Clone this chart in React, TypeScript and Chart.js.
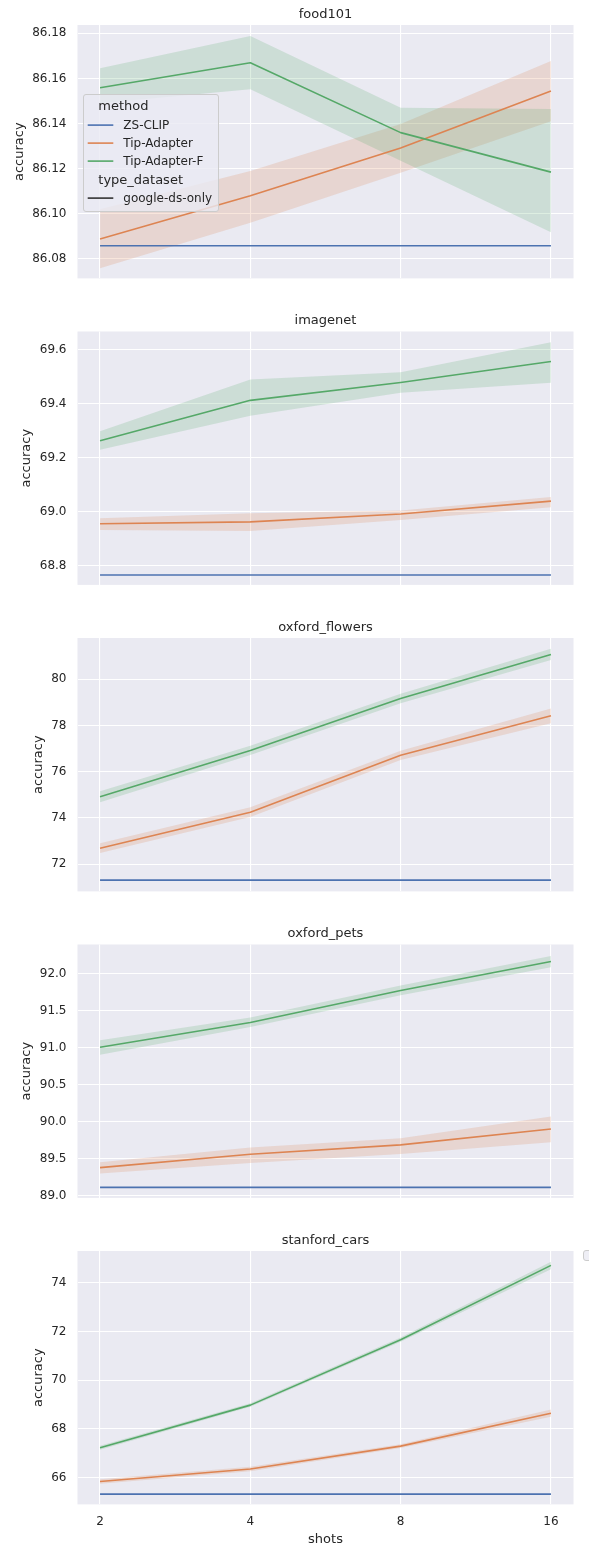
import React, { useEffect, useRef } from 'react';
import { Chart, registerables } from 'chart.js';

Chart.register(...registerables);

const FONT = "'DejaVu Sans', sans-serif";
const TEXT = '#262626';

const shots = [2, 4, 8, 16];
const shotLabels = ['2', '4', '8', '16'];
const methods = ['ZS-CLIP', 'Tip-Adapter', 'Tip-Adapter-F'];
const methodColors = ['#4c72b0', '#dd8452', '#55a868'];
const bandColors = ['rgba(76,114,176,0.2)', 'rgba(221,132,82,0.2)', 'rgba(85,168,104,0.2)'];
const legendTitles = ['method', 'type_dataset'];
const typeDatasets = ['google-ds-only'];
const panelTitles = ['food101', 'imagenet', 'oxford_flowers', 'oxford_pets', 'stanford_cars'];
const xTitle = 'shots';
const yTitle = 'accuracy';

// food101
const food101ZS = [86.0859, 86.0859, 86.0859, 86.0859];
const food101Tip = [86.0889, 86.108, 86.1292, 86.1544];
const food101TipLo = [86.0759, 86.0961, 86.1182, 86.141];
const food101TipHi = [86.102, 86.119, 86.1398, 86.1677];
const food101TipF = [86.1559, 86.167, 86.136, 86.1185];
const food101TipFLo = [86.149, 86.1552, 86.1235, 86.0918];
const food101TipFHi = [86.1645, 86.1788, 86.147, 86.1465];
const food101Ticks = ['86.08', '86.10', '86.12', '86.14', '86.16', '86.18'];
const food101Range = [86.0714, 86.1837];

// imagenet
const imagenetZS = [68.765, 68.765, 68.765, 68.765];
const imagenetTip = [68.955, 68.962, 68.991, 69.039];
const imagenetTipLo = [68.932, 68.928, 68.969, 69.016];
const imagenetTipHi = [68.975, 68.994, 69.004, 69.054];
const imagenetTipF = [69.263, 69.413, 69.479, 69.557];
const imagenetTipFLo = [69.23, 69.356, 69.441, 69.478];
const imagenetTipFHi = [69.298, 69.49, 69.517, 69.629];
const imagenetTicks = ['68.8', '69.0', '69.2', '69.4', '69.6'];
const imagenetRange = [68.728, 69.6685];

// oxford_flowers
const flowersZS = [71.31, 71.31, 71.31, 71.31];
const flowersTip = [72.69, 74.25, 76.71, 78.42];
const flowersTipLo = [72.48, 74.04, 76.51, 78.1];
const flowersTipHi = [72.9, 74.46, 76.91, 78.74];
const flowersTipF = [74.92, 76.92, 79.17, 81.08];
const flowersTipFLo = [74.68, 76.72, 78.96, 80.84];
const flowersTipFHi = [75.16, 77.12, 79.38, 81.32];
const flowersTicks = ['72', '74', '76', '78', '80'];
const flowersRange = [70.82, 81.79];

// oxford_pets
const petsZS = [89.112, 89.112, 89.112, 89.112];
const petsTip = [89.379, 89.56, 89.686, 89.9];
const petsTipLo = [89.3, 89.44, 89.564, 89.72];
const petsTipHi = [89.45, 89.65, 89.776, 90.07];
const petsTipF = [91.007, 91.34, 91.774, 92.167];
const petsTipFLo = [90.905, 91.28, 91.71, 92.09];
const petsTipFHi = [91.1, 91.41, 91.84, 92.24];
const petsTicks = ['89.0', '89.5', '90.0', '90.5', '91.0', '91.5', '92.0'];
const petsRange = [88.969, 92.396];

// stanford_cars
const carsZS = [65.33, 65.33, 65.33, 65.33];
const carsTip = [65.85, 66.36, 67.3, 68.65];
const carsTipLo = [65.76, 66.27, 67.22, 68.5];
const carsTipHi = [65.94, 66.45, 67.38, 68.8];
const carsTipF = [67.23, 68.98, 71.66, 74.71];
const carsTipFLo = [67.15, 68.91, 71.58, 74.55];
const carsTipFHi = [67.31, 69.06, 71.75, 74.86];
const carsTicks = ['66', '68', '70', '72', '74'];
const carsRange = [64.91, 75.3];

const panels = [
  { zs: food101ZS, tip: food101Tip, tipLo: food101TipLo, tipHi: food101TipHi, tipF: food101TipF, tipFLo: food101TipFLo, tipFHi: food101TipFHi, ticks: food101Ticks, range: food101Range },
  { zs: imagenetZS, tip: imagenetTip, tipLo: imagenetTipLo, tipHi: imagenetTipHi, tipF: imagenetTipF, tipFLo: imagenetTipFLo, tipFHi: imagenetTipFHi, ticks: imagenetTicks, range: imagenetRange },
  { zs: flowersZS, tip: flowersTip, tipLo: flowersTipLo, tipHi: flowersTipHi, tipF: flowersTipF, tipFLo: flowersTipFLo, tipFHi: flowersTipFHi, ticks: flowersTicks, range: flowersRange },
  { zs: petsZS, tip: petsTip, tipLo: petsTipLo, tipHi: petsTipHi, tipF: petsTipF, tipFLo: petsTipFLo, tipFHi: petsTipFHi, ticks: petsTicks, range: petsRange },
  { zs: carsZS, tip: carsTip, tipLo: carsTipLo, tipHi: carsTipHi, tipF: carsTipF, tipFLo: carsTipFLo, tipFHi: carsTipFHi, ticks: carsTicks, range: carsRange },
];

// layout (page pixels)
const PAGE_W = 589;
const PAGE_H = 1549;
const PLOT_LEFT = 77.5;
const PLOT_RIGHT = 573.5;
const PLOT_H = 253.4;
const PANEL_STEP = 306.5;
const FIRST_TOP = 25;

function panelGeom(i: number) {
  const plotTop = FIRST_TOP + PANEL_STEP * i;
  const canvasTop = Math.floor(plotTop - 25);
  const padTop = plotTop - canvasTop;
  const last = i === panels.length - 1;
  const h = last ? PAGE_H - canvasTop : 298;
  const xh = last ? PAGE_H - (plotTop + PLOT_H) : 0;
  const padBottom = h - padTop - PLOT_H - xh;
  return { plotTop, canvasTop, padTop, padBottom, h, xh, last };
}

const transparent = 'rgba(0,0,0,0)';
const pts = (ys: number[]) => shots.map((x, i) => ({ x, y: ys[i] }));

function roundRect(ctx: CanvasRenderingContext2D, x: number, y: number, w: number, h: number, r: number) {
  ctx.beginPath();
  ctx.moveTo(x + r, y);
  ctx.lineTo(x + w - r, y);
  ctx.arcTo(x + w, y, x + w, y + r, r);
  ctx.lineTo(x + w, y + h - r);
  ctx.arcTo(x + w, y + h, x + w - r, y + h, r);
  ctx.lineTo(x + r, y + h);
  ctx.arcTo(x, y + h, x, y + h - r, r);
  ctx.lineTo(x, y + r);
  ctx.arcTo(x, y, x + r, y, r);
  ctx.closePath();
}

function makeDecor(i: number) {
  const p = panels[i];
  const g = panelGeom(i);
  return {
    id: 'decor' + i,
    beforeDraw(chart: any) {
      const { ctx, chartArea: a } = chart;
      ctx.save();
      ctx.fillStyle = '#eaeaf2';
      ctx.fillRect(a.left, a.top, a.right - a.left, a.bottom - a.top);
      ctx.restore();
    },
    afterDraw(chart: any) {
      const { ctx, chartArea: a } = chart;
      const cx = (a.left + a.right) / 2;
      ctx.save();
      ctx.fillStyle = TEXT;
      // title
      ctx.font = `13px ${FONT}`;
      ctx.textAlign = 'center';
      ctx.textBaseline = 'alphabetic';
      ctx.fillText(panelTitles[i], cx, a.top - 7.5);
      // y label
      ctx.font = `12px ${FONT}`;
      const w = Math.max(...p.ticks.map((t) => ctx.measureText(t).width));
      const labLeft = a.left - 11 - w;
      ctx.save();
      ctx.font = `13px ${FONT}`;
      ctx.translate(labLeft - 13, (a.top + a.bottom) / 2);
      ctx.rotate(-Math.PI / 2);
      ctx.textAlign = 'center';
      ctx.textBaseline = 'middle';
      ctx.fillText(yTitle, 0, 0);
      ctx.restore();
      if (g.last) {
        ctx.font = `13px ${FONT}`;
        ctx.textAlign = 'center';
        ctx.textBaseline = 'alphabetic';
        ctx.fillText(xTitle, cx, 1543 - g.canvasTop);
        // clipped empty legend frame at right edge
        roundRect(ctx, 583.5, 1250.5 - g.canvasTop, 20, 10, 2.5);
        ctx.fillStyle = 'rgba(234,234,242,0.8)';
        ctx.fill();
        ctx.strokeStyle = '#cccccc';
        ctx.lineWidth = 1;
        ctx.stroke();
      }
      if (i === 0) {
        const oy = -g.canvasTop;
        roundRect(ctx, 83.5, 94.5 + oy, 135, 117, 2.5);
        ctx.fillStyle = 'rgba(234,234,242,0.8)';
        ctx.fill();
        ctx.strokeStyle = '#cccccc';
        ctx.lineWidth = 1;
        ctx.stroke();
        ctx.textAlign = 'left';
        ctx.textBaseline = 'alphabetic';
        ctx.fillStyle = TEXT;
        ctx.font = `13px ${FONT}`;
        ctx.fillText(legendTitles[0], 98.3, 110 + oy);
        ctx.fillText(legendTitles[1], 98.3, 183.5 + oy);
        const rows = [129.3, 147.3, 165.3];
        ctx.font = `12px ${FONT}`;
        methods.forEach((m, k) => {
          ctx.strokeStyle = methodColors[k];
          ctx.lineWidth = 1.6;
          ctx.beginPath();
          ctx.moveTo(87.7, rows[k] - 4.2 + oy);
          ctx.lineTo(113.3, rows[k] - 4.2 + oy);
          ctx.stroke();
          ctx.fillStyle = TEXT;
          ctx.fillText(m, 123.3, rows[k] + oy);
        });
        ctx.strokeStyle = '#333333';
        ctx.lineWidth = 1.6;
        ctx.beginPath();
        ctx.moveTo(87.7, 202.3 - 4.2 + oy);
        ctx.lineTo(113.3, 202.3 - 4.2 + oy);
        ctx.stroke();
        ctx.fillStyle = TEXT;
        ctx.fillText(typeDatasets[0], 123.3, 202.3 + oy);
      }
      ctx.restore();
    },
  };
}

function buildConfig(i: number): any {
  const p = panels[i];
  const g = panelGeom(i);
  const lineDs = (label: string, ys: number[], k: number, order: number) => ({
    label,
    data: pts(ys),
    borderColor: methodColors[k],
    backgroundColor: methodColors[k],
    borderWidth: 1.6,
    borderJoinStyle: 'round',
    pointRadius: 0,
    fill: false,
    tension: 0,
    order,
  });
  const bandDs = (label: string, ys: number[], k: number, order: number, fill: any) => ({
    label,
    data: pts(ys),
    borderColor: transparent,
    backgroundColor: bandColors[k],
    borderWidth: 0,
    pointRadius: 0,
    fill,
    tension: 0,
    order,
  });
  return {
    type: 'line',
    data: {
      datasets: [
        lineDs(methods[0], p.zs, 0, 3),
        lineDs(methods[1], p.tip, 1, 2),
        lineDs(methods[2], p.tipF, 2, 1),
        bandDs(methods[2] + ' upper', p.tipFHi, 2, 9, '+1'),
        bandDs(methods[2] + ' lower', p.tipFLo, 2, 9, false),
        bandDs(methods[1] + ' upper', p.tipHi, 1, 10, '+1'),
        bandDs(methods[1] + ' lower', p.tipLo, 1, 10, false),
      ],
    },
    options: {
      animation: false,
      responsive: false,
      devicePixelRatio: 1,
      events: [],
      layout: { padding: { top: g.padTop, bottom: g.padBottom, left: 0, right: PAGE_W - PLOT_RIGHT } },
      plugins: {
        legend: { display: false },
        title: { display: false },
        tooltip: { enabled: false },
        filler: { propagate: false },
      },
      scales: {
        x: {
          type: 'logarithmic',
          min: shots[0] / Math.pow(2, 0.15),
          max: shots[shots.length - 1] * Math.pow(2, 0.15),
          afterBuildTicks: (s: any) => {
            s.ticks = shots.map((v) => ({ value: v }));
          },
          afterFit: (s: any) => {
            s.height = g.xh;
          },
          ticks: {
            display: g.last,
            autoSkip: false,
            maxRotation: 0,
            padding: 10,
            color: TEXT,
            font: { family: FONT, size: 12 },
            callback: (_v: any, idx: number) => shotLabels[idx],
          },
          grid: { color: '#ffffff', lineWidth: 1.1, drawTicks: false },
          border: { display: false },
        },
        y: {
          type: 'linear',
          min: p.range[0],
          max: p.range[1],
          afterBuildTicks: (s: any) => {
            s.ticks = p.ticks.map((t) => ({ value: parseFloat(t) }));
          },
          afterFit: (s: any) => {
            s.width = PLOT_LEFT;
          },
          ticks: {
            autoSkip: false,
            padding: 11,
            color: TEXT,
            font: { family: FONT, size: 12 },
            callback: (_v: any, idx: number) => p.ticks[idx],
          },
          grid: { color: '#ffffff', lineWidth: 1.1, drawTicks: false },
          border: { display: false },
        },
      },
    },
    plugins: [makeDecor(i)],
  };
}

function Panel({ idx }: { idx: number }) {
  const ref = useRef<HTMLCanvasElement>(null);
  const g = panelGeom(idx);
  useEffect(() => {
    const chart = new Chart(ref.current as HTMLCanvasElement, buildConfig(idx));
    return () => chart.destroy();
  }, [idx]);
  return (
    <canvas
      ref={ref}
      width={PAGE_W}
      height={g.h}
      style={{ position: 'absolute', left: 0, top: g.canvasTop, width: PAGE_W, height: g.h, display: 'block' }}
    />
  );
}

export default function App() {
  return (
    <div style={{ position: 'absolute', left: 0, top: 0, width: PAGE_W, height: PAGE_H, background: '#ffffff' }}>
      {panels.map((_, i) => (
        <Panel key={i} idx={i} />
      ))}
    </div>
  );
}
